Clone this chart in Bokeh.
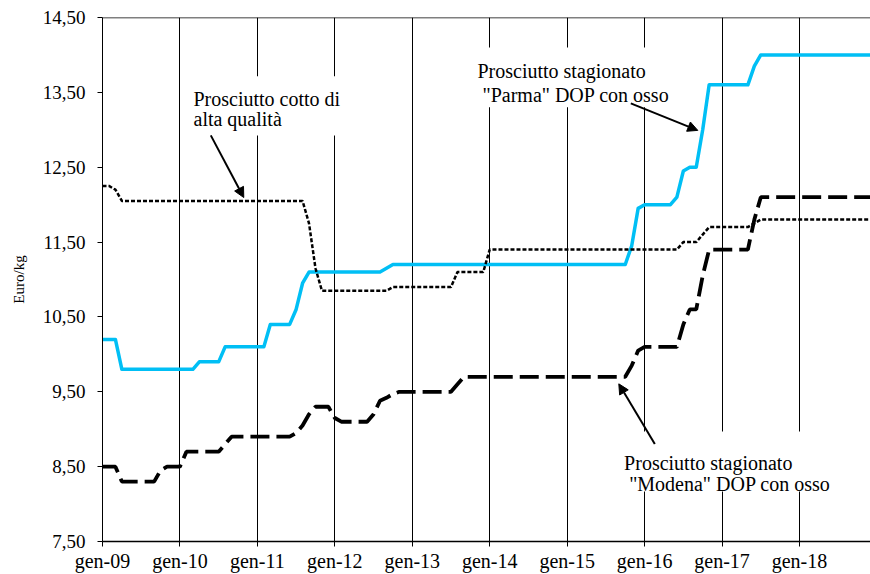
from bokeh.plotting import figure
from bokeh.models import FixedTicker, Span, Label, BoxAnnotation, Arrow, NormalHead, Range1d
from bokeh.embed import file_html
from bokeh.resources import INLINE

# ---------------- data ----------------
year_ticks = [0, 12, 24, 36, 48, 60, 72, 84, 96, 108]
year_labels = ["gen-09", "gen-10", "gen-11", "gen-12", "gen-13",
               "gen-14", "gen-15", "gen-16", "gen-17", "gen-18"]
y_ticks = [7.5, 8.5, 9.5, 10.5, 11.5, 12.5, 13.5, 14.5]
y_tick_labels = ["7,50", "8,50", "9,50", "10,50", "11,50", "12,50", "13,50", "14,50"]

months = list(range(120))

parma = [
    10.2, 10.2, 10.2, 9.8, 9.8, 9.8, 9.8, 9.8, 9.8, 9.8, 9.8, 9.8,
    9.8, 9.8, 9.8, 9.9, 9.9, 9.9, 9.9, 10.1, 10.1, 10.1, 10.1, 10.1,
    10.1, 10.1, 10.4, 10.4, 10.4, 10.4, 10.6, 10.95, 11.1, 11.1, 11.1, 11.1,
    11.1, 11.1, 11.1, 11.1, 11.1, 11.1, 11.1, 11.1, 11.15, 11.2, 11.2, 11.2,
    11.2, 11.2, 11.2, 11.2, 11.2, 11.2, 11.2, 11.2, 11.2, 11.2, 11.2, 11.2,
    11.2, 11.2, 11.2, 11.2, 11.2, 11.2, 11.2, 11.2, 11.2, 11.2, 11.2, 11.2,
    11.2, 11.2, 11.2, 11.2, 11.2, 11.2, 11.2, 11.2, 11.2, 11.2, 11.45, 11.95,
    12.0, 12.0, 12.0, 12.0, 12.0, 12.1, 12.45, 12.5, 12.5, 13.0, 13.6, 13.6,
    13.6, 13.6, 13.6, 13.6, 13.6, 13.85, 14.0, 14.0, 14.0, 14.0, 14.0, 14.0,
    14.0, 14.0, 14.0, 14.0, 14.0, 14.0, 14.0, 14.0, 14.0, 14.0, 14.0, 14.0,
]

cotto = [
    12.25, 12.25, 12.2, 12.05, 12.05, 12.05, 12.05, 12.05, 12.05, 12.05, 12.05, 12.05,
    12.05, 12.05, 12.05, 12.05, 12.05, 12.05, 12.05, 12.05, 12.05, 12.05, 12.05, 12.05,
    12.05, 12.05, 12.05, 12.05, 12.05, 12.05, 12.05, 12.05, 11.75, 11.15, 10.85, 10.85,
    10.85, 10.85, 10.85, 10.85, 10.85, 10.85, 10.85, 10.85, 10.85, 10.9, 10.9, 10.9,
    10.9, 10.9, 10.9, 10.9, 10.9, 10.9, 10.9, 11.1, 11.1, 11.1, 11.1, 11.1,
    11.4, 11.4, 11.4, 11.4, 11.4, 11.4, 11.4, 11.4, 11.4, 11.4, 11.4, 11.4,
    11.4, 11.4, 11.4, 11.4, 11.4, 11.4, 11.4, 11.4, 11.4, 11.4, 11.4, 11.4,
    11.4, 11.4, 11.4, 11.4, 11.4, 11.4, 11.5, 11.5, 11.5, 11.6, 11.7, 11.7,
    11.7, 11.7, 11.7, 11.7, 11.7, 11.75, 11.8, 11.8, 11.8, 11.8, 11.8, 11.8,
    11.8, 11.8, 11.8, 11.8, 11.8, 11.8, 11.8, 11.8, 11.8, 11.8, 11.8, 11.8,
]

modena = [
    8.5, 8.5, 8.5, 8.3, 8.3, 8.3, 8.3, 8.3, 8.3, 8.45, 8.5, 8.5,
    8.5, 8.7, 8.7, 8.7, 8.7, 8.7, 8.7, 8.8, 8.9, 8.9, 8.9, 8.9,
    8.9, 8.9, 8.9, 8.9, 8.9, 8.9, 8.95, 9.05, 9.2, 9.3, 9.3, 9.3,
    9.15, 9.1, 9.1, 9.1, 9.1, 9.1, 9.2, 9.38, 9.42, 9.47, 9.5, 9.5,
    9.5, 9.5, 9.5, 9.5, 9.5, 9.5, 9.5, 9.6, 9.7, 9.7, 9.7, 9.7,
    9.7, 9.7, 9.7, 9.7, 9.7, 9.7, 9.7, 9.7, 9.7, 9.7, 9.7, 9.7,
    9.7, 9.7, 9.7, 9.7, 9.7, 9.7, 9.7, 9.7, 9.7, 9.7, 9.85, 10.05,
    10.1, 10.1, 10.1, 10.1, 10.1, 10.1, 10.4, 10.6, 10.6, 11.05, 11.4, 11.4,
    11.4, 11.4, 11.4, 11.4, 11.4, 11.8, 12.1, 12.1, 12.1, 12.1, 12.1, 12.1,
    12.1, 12.1, 12.1, 12.1, 12.1, 12.1, 12.1, 12.1, 12.1, 12.1, 12.1, 12.1,
]

label_cotto = ["Prosciutto cotto di", "alta qualità"]
label_parma = ["Prosciutto stagionato", "\"Parma\" DOP con osso"]
label_modena = ["Prosciutto stagionato", "\"Modena\" DOP con osso"]

FONT = "Liberation Serif"

# ---------------- figure ----------------
p = figure(width=870, height=574, output_backend="svg", toolbar_location=None,
           x_range=Range1d(0, 119), y_range=Range1d(7.5, 14.5),
           min_border_left=102, min_border_right=0, min_border_top=17,
           min_border_bottom=33)
p.outline_line_color = None
p.background_fill_color = "white"
p.border_fill_color = "white"

# axes
p.xaxis.ticker = FixedTicker(ticks=year_ticks)
p.xaxis.major_label_overrides = {t: l for t, l in zip(year_ticks, year_labels)}
p.yaxis.ticker = FixedTicker(ticks=y_ticks)
p.yaxis.major_label_overrides = {t: l for t, l in zip(y_ticks, y_tick_labels)}
for ax in (p.xaxis[0], p.yaxis[0]):
    ax.axis_line_color = "black"
    ax.axis_line_width = 1
    ax.major_tick_line_color = "black"
    ax.major_tick_out = 5
    ax.major_tick_in = 0
    ax.minor_tick_out = 0
    ax.minor_tick_in = 0
    ax.major_label_text_font = FONT
    ax.major_label_text_color = "black"
p.xaxis.major_label_text_font_size = "20px"
p.yaxis.major_label_text_font_size = "19px"
p.xaxis.axis_line_width = 1.5
p.xaxis.major_label_standoff = 3
p.yaxis.major_label_standoff = 12
p.yaxis.axis_label = "Euro/kg"
p.yaxis.axis_label_text_font = FONT
p.yaxis.axis_label_text_font_style = "normal"
p.yaxis.axis_label_text_font_size = "15px"
p.yaxis.axis_label_text_color = "black"
p.yaxis.axis_label_standoff = 13

# grid
p.xgrid.ticker = FixedTicker(ticks=year_ticks)
p.xgrid.grid_line_color = "black"
p.xgrid.grid_line_width = 1
p.ygrid.visible = False

p.add_layout(Span(location=14.5, dimension="width", line_color="black", line_width=1.5))

# series
p.line(months, parma, line_color="#00BFF5", line_width=3.5, line_join="round")
p.line(months, cotto, line_color="black", line_width=2.5, line_dash="4 2")
p.line(months, modena, line_color="black", line_width=3.8, line_dash="19 7")

# text boxes (white backgrounds that interrupt the gridlines)
p.add_layout(BoxAnnotation(left=13.2, right=37.7, bottom=12.925, top=13.714,
                           fill_color="white", fill_alpha=1, line_color=None))
p.add_layout(BoxAnnotation(left=57.1, right=88.8, bottom=13.30, top=14.10,
                           fill_color="white", fill_alpha=1, line_color=None))
p.add_layout(BoxAnnotation(left=79.5, right=113.6, bottom=8.167, top=8.97,
                           fill_color="white", fill_alpha=1, line_color=None))

def add_text(x, y, txt):
    p.add_layout(Label(x=x, y=y, text=txt, text_font=FONT, text_font_size="20px",
                       text_color="black", text_baseline="alphabetic", text_align="left"))

add_text(14.1, 13.416, label_cotto[0])
add_text(14.1, 13.139, label_cotto[1])
add_text(58.1, 13.785, label_parma[0])
add_text(58.88, 13.47, label_parma[1])
add_text(80.82, 8.553, label_modena[0])
add_text(81.6, 8.264, label_modena[1])

def add_arrow(x0, y0, x1, y1):
    p.add_layout(Arrow(end=NormalHead(size=10, fill_color="black", line_color="black"),
                       x_start=x0, y_start=y0, x_end=x1, y_end=y1,
                       line_color="black", line_width=2))

add_arrow(16.78, 12.925, 21.89, 12.095)
add_arrow(81.86, 13.353, 92.24, 12.992)
add_arrow(85.58, 8.803, 80.0, 9.606)

open("out.html", "w").write(file_html(p, INLINE))
